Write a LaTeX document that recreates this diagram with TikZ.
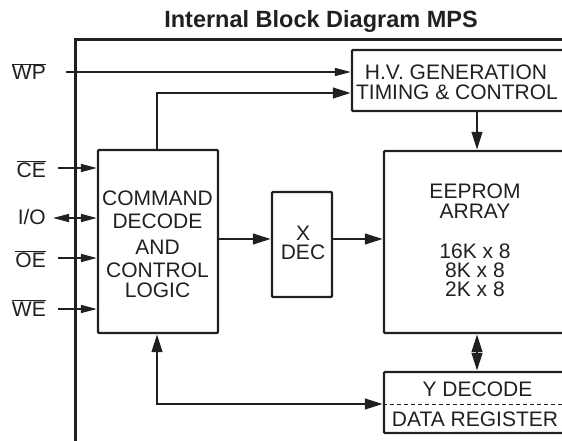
\documentclass[tikz,border=0pt]{standalone}
\usepackage{fontspec}
\setmainfont{Liberation Sans}
\usetikzlibrary{arrows.meta}
\definecolor{ink}{HTML}{231F20}
\begin{document}
\begin{tikzpicture}[x=1pt,y=-1pt,
  box/.style={draw=ink, line width=2.3pt, rounded corners=1pt, inner sep=0pt},
  txt/.style={font=\fontsize{21}{24}\selectfont, text=ink, inner sep=0pt, anchor=base},
  lbl/.style={font=\fontsize{21}{24}\selectfont, text=ink, inner sep=0pt, anchor=base east},
  bus/.style={draw=ink, line width=2.6pt, -{Triangle[length=18pt,width=10.5pt]}},
  busboth/.style={draw=ink, line width=2.6pt, {Triangle[length=18pt,width=10.5pt]}-{Triangle[length=18pt,width=10.5pt]}},
  sig/.style={draw=ink, line width=1.5pt, -{Triangle[length=16pt,width=8pt]}},
  sigboth/.style={draw=ink, line width=1.5pt, {Triangle[length=16pt,width=8pt]}-{Triangle[length=16pt,width=8pt]}}]
\useasboundingbox (0,0) rectangle (562,441);
\clip (0,0) rectangle (562,441);

% title
\node[anchor=base, font=\fontsize{23.5}{26}\selectfont\bfseries, text=ink, inner sep=0pt] (title) at (321,28) {Internal Block Diagram MPS};

% outer frame
\draw[draw=ink, line width=3pt] (75,450) -- (75,40) -- (575,40);

% boxes
\node[box, minimum width=120pt, minimum height=183pt] (cmd) at (158,241.5) {};
\node[box, minimum width=60pt, minimum height=105pt] (xdec) at (302,244.5) {};
\node[box, minimum width=184pt, minimum height=182pt] (eeprom) at (476,242) {};
\node[box, minimum width=216pt, minimum height=61pt] (hv) at (460,80.5) {};
\node[box, minimum width=186pt, minimum height=61pt] (ydec) at (477,402.5) {};
\draw[draw=ink, line width=1pt, dash pattern=on 4pt off 3pt] (ydec.west |- 0,404) -- (ydec.east |- 0,404);

% box texts
\node[txt] (cmd1) at (157.5,205) {COMMAND};
\node[txt] (cmd2) at (157.5,228) {DECODE};
\node[txt] (cmd3) at (157.5,254) {AND};
\node[txt] (cmd4) at (157.5,277) {CONTROL};
\node[txt] (cmd5) at (157.5,297) {LOGIC};
\node[txt] (xd1) at (303,240) {X};
\node[txt] (xd2) at (303,259.5) {DEC};
\node[txt] (ee1) at (475,198) {EEPROM};
\node[txt] (ee2) at (475,218) {ARRAY};
\node[txt] (ee3) at (475,258) {16K x 8};
\node[txt] (ee4) at (475,277) {8K x 8};
\node[txt] (ee5) at (475,296.5) {2K x 8};
\node[txt] (hv1) at (456,80) {H.V. GENERATION};
\node[txt] (hv2) at (457,100) {TIMING \& CONTROL};
\node[txt] (yd1) at (477.5,396) {Y DECODE};
\node[txt] (yd2) at (475,426) {DATA REGISTER};

% pin labels
\node[lbl] (wp) at (46,80) {$\overline{\mbox{WP}}$};
\node[lbl] (ce) at (46,177) {$\overline{\mbox{CE}}$};
\node[lbl] (io) at (46,224.5) {I/O};
\node[lbl] (oe) at (46,267) {$\overline{\mbox{OE}}$};
\node[lbl] (we) at (46,316) {$\overline{\mbox{WE}}$};

% pin arrow starts
\coordinate (wpS) at (66,72);
\coordinate (ceS) at (58,168);
\coordinate (ioS) at (53,218);
\coordinate (oeS) at (58,258);
\coordinate (weS) at (58,309);

% connectors
\draw[sig] (wpS) -- (hv.west |- wpS);
\draw[sig] (ceS) -- (cmd.west |- ceS);
\draw[sigboth] (ioS) -- (cmd.west |- ioS);
\draw[sig] (oeS) -- (cmd.west |- oeS);
\draw[sig] (weS) -- (cmd.west |- weS);

\draw[bus] (cmd.north -| 157,0) |- (hv.west |- 0,93);
\draw[bus] (hv.south -| 477,0) -- (eeprom.north -| 477,0);
\draw[bus] (cmd.east |- 0,239) -- (xdec.west |- 0,239);
\draw[bus] (xdec.east |- 0,239) -- (eeprom.west |- 0,239);
\draw[busboth] (eeprom.south -| 477,0) -- (ydec.north -| 477,0);
\draw[busboth] (cmd.south -| 157,0) |- (ydec.west |- 0,404);
\end{tikzpicture}
\end{document}
